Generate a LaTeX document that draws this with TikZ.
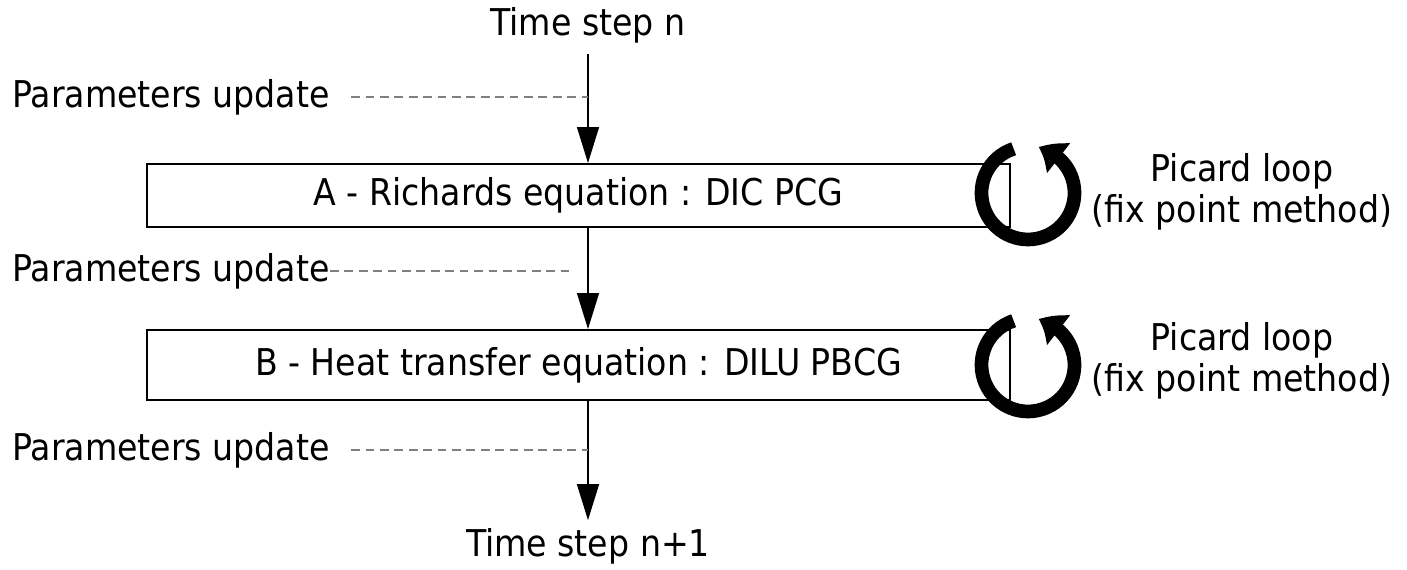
\documentclass[tikz,border=0pt]{standalone}
\usepackage{fontspec}
\setmainfont{DejaVu Sans Condensed}
\usetikzlibrary{arrows.meta,positioning,bending}

\begin{document}
\begin{tikzpicture}[x=0.02cm, y=0.02cm, every node/.style={font=\fontsize{21}{23}\selectfont},
  eqbx/.style={draw, line width=1.1pt, minimum width=17.26cm, inner sep=0pt},
  flow/.style={line width=0.8pt, -{Triangle[length=0.72cm, width=0.44cm]}},
  upd/.style={gray, line width=0.6pt, dash pattern=on 5pt off 3.2pt},
  picard/.style={line width=7.8pt, -{Triangle[bend, length=0.46cm, width=0.72cm]}}]
\useasboundingbox (0,0) rectangle (1407,570);
% time steps
\node (tn) at (588,545) {Time step n};
\node (tn1) at (588,24) {Time step n+1};
% equations
\node[eqbx, minimum height=1.26cm] (eqA) at (578.5,374.5) {A - Richards equation : DIC PCG};
\node[eqbx, minimum height=1.4cm] (eqB) at (578.5,205) {B - Heat transfer equation : DILU PBCG};
% parameters updates
\node[anchor=west, inner sep=0pt] (pu1) at (12,473) {Parameters update};
\node[anchor=west, inner sep=0pt] (pu2) at (12,299) {Parameters update};
\node[anchor=west, inner sep=0pt] (pu3) at (12,120) {Parameters update};
% Arrows
\draw[flow, shorten <=3pt] (tn.south) -- (tn.south |- eqA.north);
\draw[flow] (tn.south |- eqA.south) -- (tn.south |- eqB.north);
\draw[flow] (tn.south |- eqB.south) -- ([yshift=1pt]tn1.north);
\draw[upd] ([xshift=12pt]pu1.east) -- (pu1.east -| tn.south);
\draw[upd] (pu2.east) -- ([xshift=-9pt]pu2.east -| tn.south);
\draw[upd] ([xshift=12pt]pu3.east) -- (pu3.east -| tn.south);
% Picard loops
\coordinate (loopA) at (1028,377);
\coordinate (loopB) at (1028,205);
\draw[picard] ([shift={(108:0.93cm)}]loopA) arc[start angle=108, end angle=437, radius=0.93cm];
\draw[picard] ([shift={(108:0.93cm)}]loopB) arc[start angle=108, end angle=437, radius=0.93cm];
\node[align=center] (plA) at (1242,378) {Picard loop\\(fix point method)};
\node[align=center] (plB) at (1242,209) {Picard loop\\(fix point method)};
\end{tikzpicture}
\end{document}
